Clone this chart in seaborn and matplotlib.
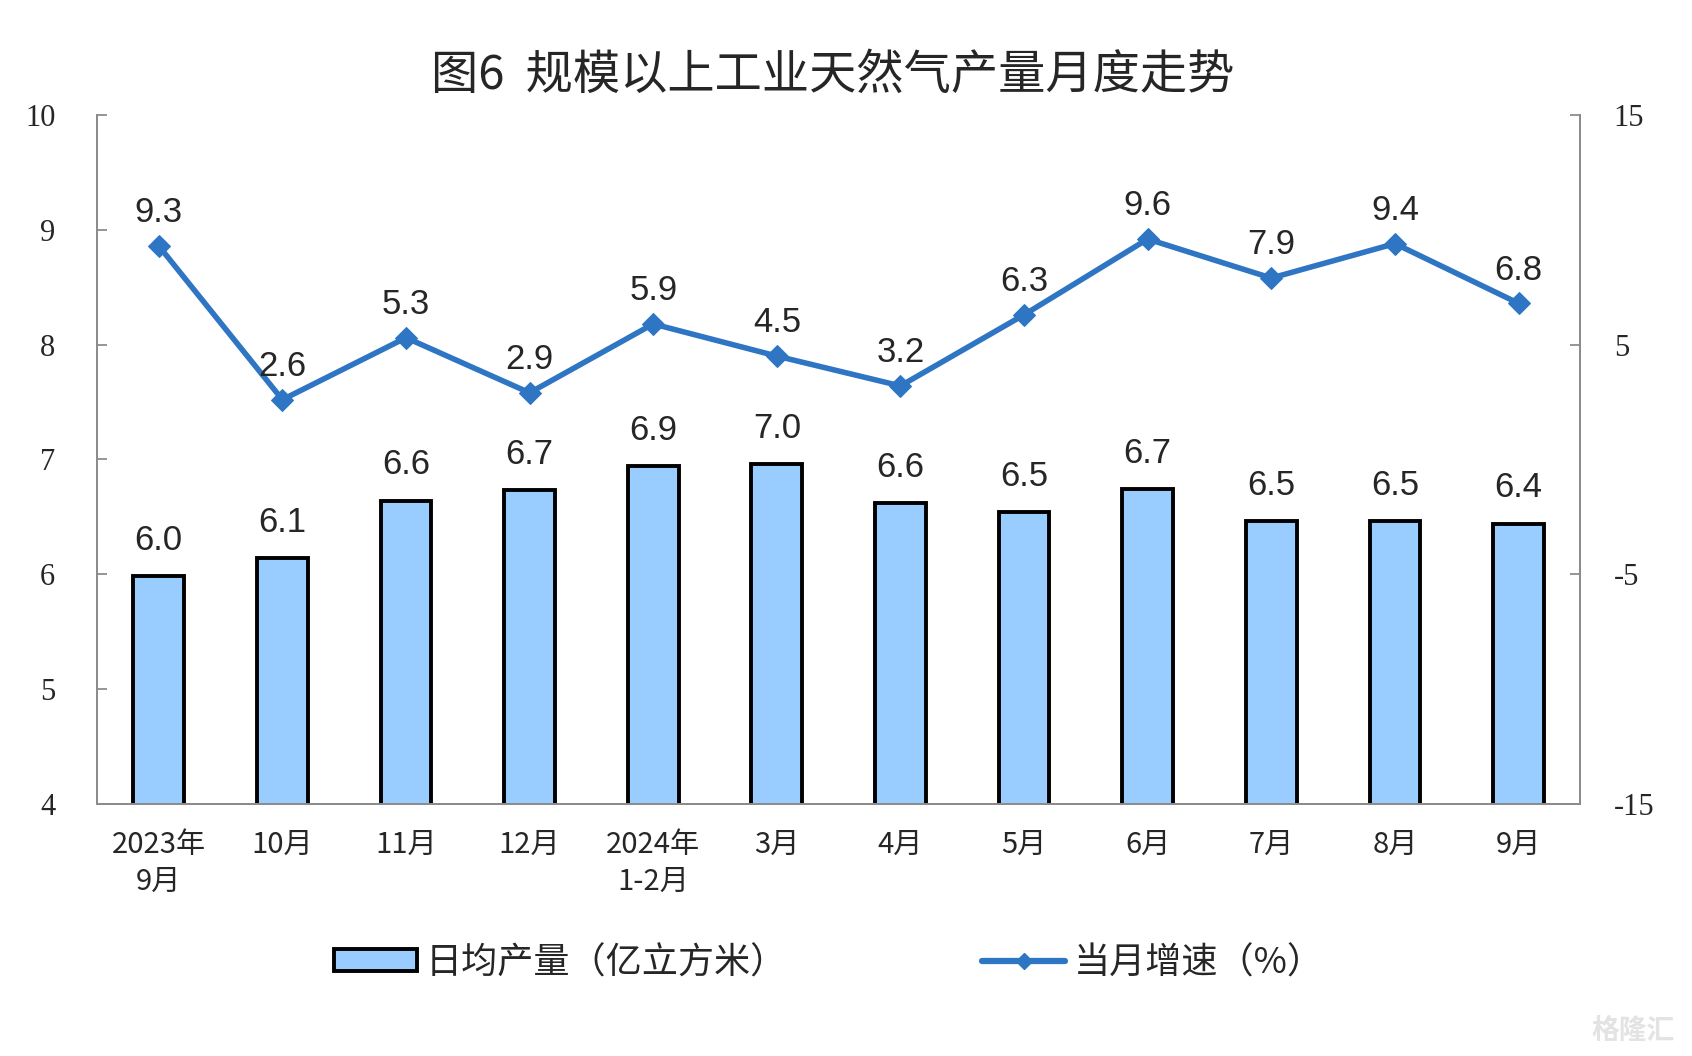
import numpy as np
import pandas as pd
import matplotlib
matplotlib.use("Agg")
import matplotlib.pyplot as plt
import seaborn as sns

# data
months = ["2023年\n9月", "10月", "11月", "12月", "2024年\n1-2月", "3月",
          "4月", "5月", "6月", "7月", "8月", "9月"]
daily_output = [5.98, 6.14, 6.64, 6.73, 6.94, 6.96, 6.62, 6.54, 6.74, 6.46, 6.46, 6.44]
output_labels = ["6.0", "6.1", "6.6", "6.7", "6.9", "7.0", "6.6", "6.5", "6.7", "6.5", "6.5", "6.4"]
growth = [9.3, 2.6, 5.3, 2.9, 5.9, 4.5, 3.2, 6.3, 9.6, 7.9, 9.4, 6.8]

left_ticks = [4, 5, 6, 7, 8, 9, 10]
right_ticks = [-15, -5, 5, 15]

BAR_COLOR = "#99CCFF"
LINE_COLOR = "#2E75C4"
AXIS_GRAY = "#8C8C8C"

sns.set_style("white")
plt.rcParams["font.family"] = ["Noto Sans CJK SC", "DejaVu Sans"]
plt.rcParams["axes.unicode_minus"] = False

df = pd.DataFrame({"month": months, "output": daily_output, "growth": growth})

fig = plt.figure(figsize=(16.92, 10.56), dpi=100)
ax = fig.add_axes([0.0573, 0.239, 0.8767, 0.652])

sns.barplot(data=df, x="month", y="output", color=BAR_COLOR, width=0.41,
            edgecolor="black", linewidth=2.8, saturation=1, ax=ax, zorder=2)
ax.set_ylim(4, 10)
ax.set_xlim(-0.5, len(months) - 0.5)
ax.set_yticks(left_ticks)
ax.set_xlabel("")
ax.set_ylabel("")

ax2 = ax.twinx()
sns.lineplot(x=np.arange(len(months)), y=df["growth"], color=LINE_COLOR,
             linewidth=4, marker="D", markersize=11, markeredgecolor=LINE_COLOR,
             ax=ax2, zorder=3)
ax2.set_ylim(-15, 15)
ax2.set_yticks(right_ticks)
ax2.set_ylabel("")
ax2.set_xlim(-0.5, len(months) - 0.5)

# spines
for a in (ax, ax2):
    a.spines["top"].set_visible(False)
    for s in ("left", "right", "bottom"):
        a.spines[s].set_color(AXIS_GRAY)
        a.spines[s].set_linewidth(1.4)

serif = "Liberation Serif"
ax.tick_params(axis="y", direction="in", length=7, width=1.3, color=AXIS_GRAY,
               pad=30, labelsize=22)
ax2.tick_params(axis="y", direction="in", length=7, width=1.3, color=AXIS_GRAY,
                pad=24, labelsize=22)
for lab in ax.get_yticklabels() + ax2.get_yticklabels():
    lab.set_fontfamily(serif)

# x ticks: labels at centres, tick marks between categories
ax.tick_params(axis="x", which="major", length=0, pad=19, labelsize=21)
ax.set_xticks(np.arange(0.5, len(months) - 1, 1.0), minor=True)
ax.tick_params(axis="x", which="minor", direction="in", length=7, width=1.3,
               color=AXIS_GRAY)
for lab in ax.get_xticklabels():
    lab.set_linespacing(1.3)

# value labels
for i, (v, t) in enumerate(zip(daily_output, output_labels)):
    ax.annotate(t, (i, v), xytext=(0, 14), textcoords="offset points",
                ha="center", va="bottom", fontsize=25,
                fontfamily="Liberation Sans", zorder=5)
for i, g in enumerate(growth):
    ax2.annotate(f"{g:.1f}", (i, g), xytext=(0, 12), textcoords="offset points",
                 ha="center", va="bottom", fontsize=25,
                 fontfamily="Liberation Sans", zorder=5)

fig.suptitle("图6  规模以上工业天然气产量月度走势", x=0.492, y=0.928,
             va="center", fontsize=34, fontweight="medium")

# legend
handles = [
    matplotlib.patches.Patch(facecolor=BAR_COLOR, edgecolor="black", linewidth=2.8),
    matplotlib.lines.Line2D([], [], color=LINE_COLOR, linewidth=4.5, marker="D",
                            markersize=8),
]
fig.legend(handles, ["日均产量（亿立方米）", "当月增速（%）"], ncol=2,
           loc="center", bbox_to_anchor=(0.49, 0.088), frameon=False,
           fontsize=26, handlelength=2.3, handleheight=0.55, handletextpad=0.25,
           columnspacing=5.4)

# watermark
fig.text(0.99, 0.01, "格隆汇", ha="right", va="bottom", fontsize=20,
         color="#E3E3E3", fontweight="bold")

fig.savefig("out.png", dpi=100)
